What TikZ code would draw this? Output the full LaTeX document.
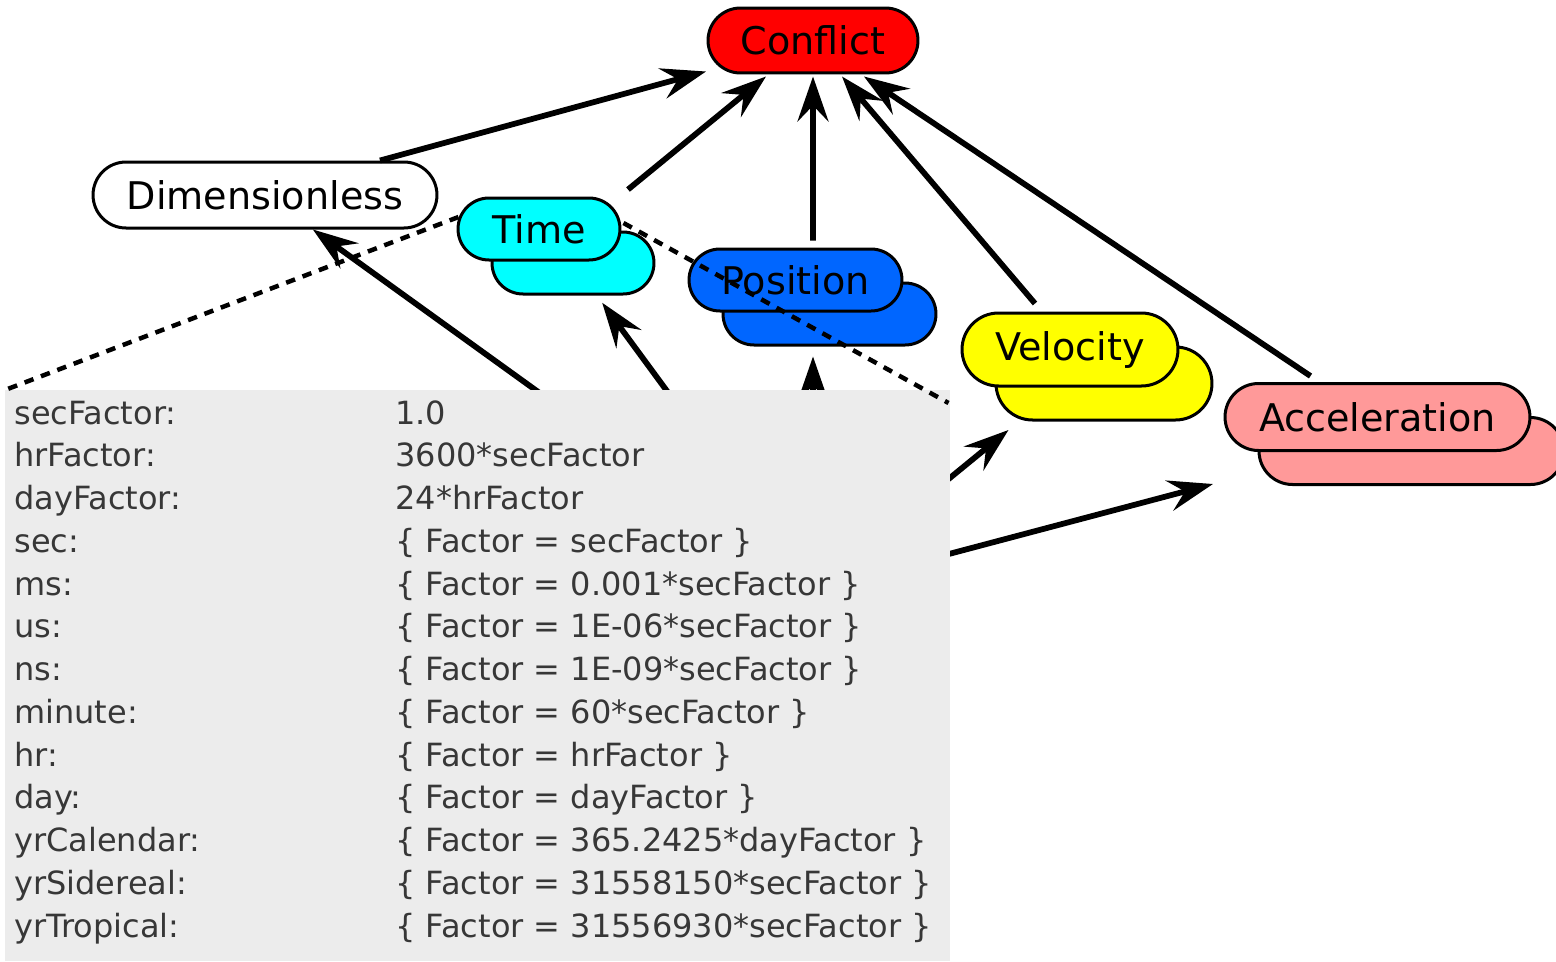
\documentclass[tikz,border=0pt]{standalone}
\usepackage{fontspec}
\setmainfont{DejaVu Sans}
\usetikzlibrary{positioning, calc, arrows.meta, shapes.misc}
\definecolor{conflictred}{RGB}{255,0,0}
\definecolor{timecyan}{RGB}{0,255,255}
\definecolor{posblue}{RGB}{0,102,255}
\definecolor{velyellow}{RGB}{255,255,0}
\definecolor{accpink}{RGB}{255,153,153}
\definecolor{panelgray}{RGB}{236,236,236}
\definecolor{rowtext}{RGB}{55,55,55}

\tikzset{
  pill/.style={rounded rectangle, draw=black, line width=0.6mm, inner sep=0pt,
               font=\fontsize{21.7}{26}\selectfont},
  timepill/.style={pill, fill=timecyan, minimum width=3.24cm, minimum height=1.24cm},
  pospill/.style={pill, fill=posblue, minimum width=4.26cm, minimum height=1.24cm},
  velpill/.style={pill, fill=velyellow, minimum width=4.32cm, minimum height=1.46cm},
  accpill/.style={pill, fill=accpink, minimum width=6.1cm, minimum height=1.34cm},
  link/.style={line width=1.15mm, -{Stealth[length=9mm, width=6.2mm, inset=3.2mm]}},
  callout/.style={line width=0.9mm, dash pattern=on 1.9mm off 1.6mm},
  row/.style={inner sep=0pt, text=rowtext, font=\fontsize{18.2}{22}\selectfont},
}

\begin{document}
\begin{tikzpicture}[x=0.02cm, y=-0.02cm]
\useasboundingbox (0,0) rectangle (1556,961);

% unit types
\node[pill, fill=conflictred, minimum width=4.2cm, minimum height=1.3cm] (conf) at (813,40.5) {Conflict};
\node[pill, fill=white, minimum width=6.88cm, minimum height=1.32cm] (dim) at (265,195) {Dimensionless};
\node[timepill] (timeb) at (573,263) {};
\node[timepill] (time) at (539,229) {Time};
\node[pospill] (posb) at (829.5,314) {};
\node[pospill] (pos) at (795.5,280) {Position};
\node[velpill] (velb) at (1104,383.5) {};
\node[velpill] (vel) at (1070,349.5) {Velocity};
\node[accpill] (accb) at (1411.5,451) {};
\node[accpill] (acc) at (1377.5,417) {Acceleration};

% the hidden unit behind the panel
\coordinate (src) at (813,590);
\draw[link] (src) -- (dim);
\draw[link, shorten >=0.18cm] (src) -- (timeb);
\draw[link] (src) -- ($(posb.south)+(-16.5,10)$);
\draw[link] (src) -- ($(velb.south)+(-95.5,8.5)$);
\draw[link] (src) -- ($(accb.south)+(-198.5,-2)$);

% factor panel
\node[fill=panelgray, inner sep=0pt, minimum width=18.9cm, minimum height=11.42cm,
      anchor=north west] (tbl) at (5,390) {};
\foreach \k/\v [count=\i] in {secFactor/{1.0}, hrFactor/{3600*secFactor},
    dayFactor/{24*hrFactor}, sec/{\{ Factor = secFactor \}},
    ms/{\{ Factor = 0.001*secFactor \}}, us/{\{ Factor = 1E-06*secFactor \}},
    ns/{\{ Factor = 1E-09*secFactor \}}, minute/{\{ Factor = 60*secFactor \}},
    hr/{\{ Factor = hrFactor \}}, day/{\{ Factor = dayFactor \}},
    yrCalendar/{\{ Factor = 365.2425*dayFactor \}},
    yrSidereal/{\{ Factor = 31558150*secFactor \}},
    yrTropical/{\{ Factor = 31556930*secFactor \}}} {
  \node[row, anchor=base west] (k\i) at (14,{424+42.75*(\i-1)}) {\k:};
  \node[row, anchor=base west] (v\i) at (395,{424+42.75*(\i-1)}) {\v};
}

% links up to the conflict
\draw[link] ($(dim.north)+(115,0)$) -- ($(conf.south)+(-107,-3)$);
\draw[link] ($(time.north)+(89,-7)$) -- ($(conf.south)+(-47,2)$);
\draw[link] ($(pos.north)+(17.5,-7)$) -- ($(conf.south)+(0,2)$);
\draw[link] ($(vel.north)+(-35,-8)$) -- ($(conf.south)+(29,2)$);
\draw[link] ($(acc.north)+(-67,-6)$) -- ($(conf.south)+(51,2)$);

% callout lines
\draw[callout] ($(time.west)+(2,-12)$) -- (tbl.north west);
\draw[callout] ($(time.east)+(2,-6)$) -- ($(tbl.north east)+(-2,13)$);
\end{tikzpicture}
\end{document}
